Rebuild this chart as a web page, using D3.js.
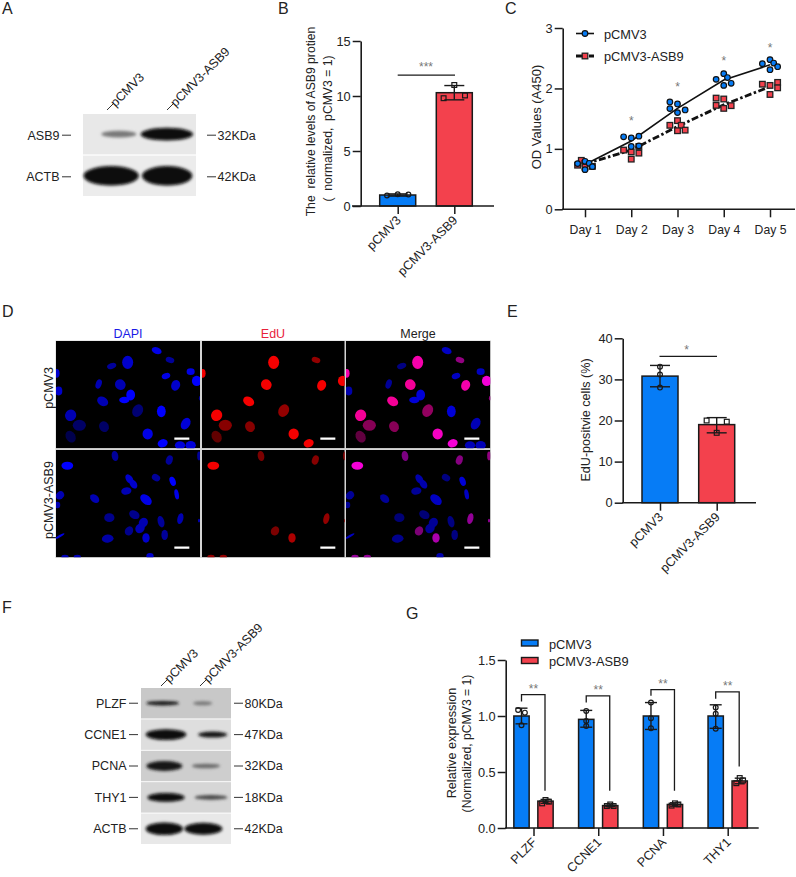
<!DOCTYPE html>
<html><head><meta charset="utf-8">
<script src="https://cdn.jsdelivr.net/npm/d3@7/dist/d3.min.js"></script>
<style>
html,body{margin:0;padding:0;background:#fff}
svg{display:block}
text{font-family:"Liberation Sans",Arial,sans-serif;fill:#222;white-space:pre}
</style></head><body>
<svg id="c" width="796" height="877"></svg>
<script>
/* ---------- data ---------- */
const groups = ["pCMV3","pCMV3-ASB9"];
const panelLetters = ["A","B","C","D","E","F","G"];

// B
const bMeans = [1.0,10.3];
const bErrLo = [0.9,9.65];
const bErrHi = [1.1,10.95];
const bPoints = [[[-0.27,0.95],[0,1.07],[0.27,1.04]],[[-0.27,9.8],[0,11.0],[0.27,10.05]]];
const bTicks = [0,5,10,15];

// C
const days = ["Day 1","Day 2","Day 3","Day 4","Day 5"];
const cTicks = [0,1,2,3];
const cMeanA = [0.74,1.13,1.67,2.14,2.39];
const cMeanB = [0.75,0.98,1.37,1.73,2.03];
const cOffsets = [
 [-0.16,0,0.09,0.16,0],[-0.165,0,0.165,0,0.165],[-0.165,0,-0.165,0,0.165],[-0.165,0,0.08,0.16,0],[-0.165,0,0.08,0.165,0]];
const cBlue = [
 [0.756,0.794,0.761,0.706,0.656],[1.20,1.18,1.21,1.04,1.05],[1.776,1.743,1.666,1.60,1.644],[2.15,2.245,2.18,2.085,2.05],[2.41,2.476,2.42,2.36,2.31]];
const cRedOffsets = [
 [-0.16,-0.08,0,0.16,0],[-0.165,0,0.165,0,0.165],[-0.165,0,0.08,0.165,0],[-0.165,0,-0.165,0.16,0],[-0.165,0,0.165,0.165,0]];
const cRed = [
 [0.73,0.81,0.76,0.71,0.70],[0.98,0.95,0.93,0.83,1.04],[1.39,1.467,1.39,1.31,1.30],[1.84,1.825,1.72,1.715,1.67],[2.07,2.05,2.10,2.01,1.90]];
const cStarDays = [1,2,3,4];
const cStarValues = [1.48,2.04,2.47,2.69];

// E
const eMeans = [30.8,19.0];
const eErrLo = [28.2,17.0];
const eErrHi = [33.4,20.7];
const ePoints = [[[0,33.1],[0,31.2],[0,28.0]],[[-0.18,20.0],[0.18,19.7],[0,17.0]]];
const eTicks = [0,10,20,30,40];

// G
const genes = ["PLZF","CCNE1","PCNA","THY1"];
const gTicks = [0,0.5,1,1.5];
const gBlue = [1.0,0.97,1.0,1.0];
const gRed = [0.24,0.20,0.21,0.42];
const gBlueLo = [0.93,0.90,0.88,0.89];
const gBlueHi = [1.07,1.05,1.12,1.10];
const gRedLo = [0.22,0.19,0.195,0.395];
const gRedHi = [0.255,0.215,0.225,0.445];
const gBluePts = [[[-0.22,1.054],[0.22,1.03],[0,0.917]],[[0,1.045],[0,0.955],[0,0.91]],[[0,1.12],[0,0.98],[0,0.89]],[[0,1.075],[0,1.02],[0,0.887]]];
const gRedPts = [[[-0.22,0.22],[0,0.25],[0.22,0.235]],[[-0.22,0.196],[0,0.21],[0.22,0.196]],[[-0.22,0.2],[0,0.22],[0.22,0.21]],[[-0.22,0.40],[0,0.446],[0.22,0.425]]];
const gBracketTop = [1.19,1.18,1.235,1.215];
const gBracketLeft = [1.13,1.12,1.18,1.155];
const gBracketRight = [0.333,0.333,0.333,0.55];

// D: nuclei in field units, [x, y, rx, ry, angle, blue, red]
const fieldUpper = [
 [302,29,14,9,20,.9,0],[342,57,12,8,15,.6,.6],[215,64,15,18,0,.8,1],[167,75,13,8,-20,.6,0],
 [404,92,11,9,0,.9,0],[330,105,12,8,-20,.9,0],[2,97,8,12,0,.8,1],[422,120,13,14,0,1,1],
 [128,129,8,13,20,.7,0],[193,131,15,14,40,.7,1],[359,133,12,15,20,.8,1],[8,150,10,12,0,.8,0],
 [224,162,12,15,0,1,0],[205,177,14,9,0,1,0],[140,181,16,12,30,.7,1],[245,209,14,18,30,.45,.6],
 [316,211,12,16,0,1,0],[44,223,15,16,30,.7,1],[70,253,18,15,0,.4,.55],[144,257,13,15,-30,.4,.55],
 [389,248,12,17,30,.85,0],[275,279,14,15,0,.9,1],[44,287,13,17,-30,.3,.4],[320,307,14,11,-20,1,1],
 [372,313,14,11,0,.85,0],[404,313,14,12,0,.85,0],[432,172,3,6,0,.6,.6]];
const fieldLower = [
 [177,18,9,14,-10,.6,.5],[34,47,16,11,0,1,1],[340,30,9,13,20,.6,.55],[429,18,5,12,0,.6,.6],
 [220,87,9,14,-35,.8,0],[232,102,9,14,-35,.8,0],[300,83,12,9,30,.6,0],[350,94,8,13,-20,1,0],
 [211,123,14,10,-10,.7,0],[362,133,6,14,-10,.9,0],[116,146,14,10,40,.7,0],[270,149,18,12,40,.9,0],
 [12,136,12,10,-40,.7,0],[4,165,8,9,0,.7,0],[235,194,15,11,30,.55,0],[160,203,14,12,0,.55,0],
 [373,206,8,15,15,.7,.6],[315,215,9,16,-15,.6,0],[262,218,12,14,30,.7,0],[252,235,14,12,-50,.7,0],
 [219,243,11,13,30,.55,.5],[326,255,9,14,0,.6,0],[12,258,14,3,-30,.9,0],[270,264,10,13,0,.8,.7],
 [155,266,16,11,-5,.65,0],[429,212,3,5,0,.7,.6],[27,321,10,6,0,.7,.6],[64,321,10,6,0,.7,.6],[282,318,10,8,0,.8,0]];
const fields = [fieldUpper,fieldLower];
const channels = ["DAPI","EdU","Merge"];

// blots: [label, kDa, background grey, bands [centre, width, height, density]]
const blotA = [
 ["ASB9","32KDa",232,[[107,104,20,.5],[250,156,38,1.0]]],
 ["ACTB","42KDa",236,[[84,165,58,1.0],[251,150,58,1.0]]]];
const blotF = [
 ["PLZF","80KDa",200,[[65,98,14,.92],[185,58,12,.42]]],
 ["CCNE1","47KDa",222,[[75,122,32,1.0],[215,88,18,.92]]],
 ["PCNA","32KDa",206,[[70,108,30,.95],[195,84,14,.5]]],
 ["THY1","18KDa",214,[[75,112,26,1.0],[210,98,14,.68]]],
 ["ACTB","42KDa",232,[[70,112,38,1.0],[187,114,36,1.0]]]];

/* ---------- helpers ---------- */
const blue="#067cf6", red="#f3414d", ink="#1a1a1a";
const svg=d3.select("#c");
const defs=svg.append("defs");
defs.append("filter").attr("id","soft").attr("x","-30%").attr("y","-30%").attr("width","160%").attr("height","160%")
  .append("feGaussianBlur").attr("stdDeviation",0.7);
defs.append("filter").attr("id","band").attr("x","-30%").attr("y","-80%").attr("width","160%").attr("height","260%")
  .append("feGaussianBlur").attr("stdDeviation",1.8);

function txt(g,x,y,s,o={}){
  const t=g.append("text").attr("x",x).attr("y",y).text(s)
    .attr("font-size",o.size||12.5).attr("text-anchor",o.anchor||"start");
  if(o.rot!==undefined) t.attr("transform",`rotate(${o.rot} ${x} ${y})`);
  if(o.fill) t.style("fill",o.fill);
  return t;
}
function styleAxis(a,size){
  a.selectAll("path.domain").attr("stroke",ink).attr("stroke-width",1.6);
  a.selectAll("line").attr("stroke",ink).attr("stroke-width",1.5);
  a.selectAll("text").attr("font-size",size||12.5).style("font-family",'"Liberation Sans",Arial,sans-serif').style("fill","#222");
}
function yAxis(y,x,ticks,fmt){
  const a=svg.append("g").attr("transform",`translate(${x},0)`)
    .call(d3.axisLeft(y).tickValues(ticks).tickSize(8).tickSizeOuter(0).tickPadding(2).tickFormat(fmt||d3.format("d")));
  styleAxis(a,12.8); return a;
}
function xAxis(xs,y0,x0,x1,rotate){
  const a=svg.append("g").attr("transform",`translate(0,${y0})`)
    .call(d3.axisBottom(xs).tickSize(8).tickSizeOuter(0).tickPadding(8));
  a.select("path.domain").remove();
  styleAxis(a,rotate?12.6:12.2);
  svg.append("line").attr("x1",x0).attr("x2",x1).attr("y1",y0).attr("y2",y0).attr("stroke",ink).attr("stroke-width",1.6);
  if(rotate) a.selectAll(".tick text").attr("text-anchor","end").attr("dy",0).attr("dx",0)
     .attr("y",15).attr("x",3.5).attr("transform","rotate(-45 3.5 15)");
  return a;
}
function bar(cx,w,v,y,fill){
  svg.append("rect").attr("x",cx-w/2).attr("width",w).attr("y",y(v)).attr("height",y(0)-y(v))
    .attr("fill",fill).attr("stroke",ink).attr("stroke-width",1.5);
}
function err(cx,cap,lo,hi,y){
  const g=svg.append("g").attr("stroke",ink).attr("stroke-width",1.4);
  g.append("line").attr("x1",cx).attr("x2",cx).attr("y1",y(lo)).attr("y2",y(hi));
  [lo,hi].forEach(v=>g.append("line").attr("x1",cx-cap).attr("x2",cx+cap).attr("y1",y(v)).attr("y2",y(v)));
}
function marks(cx,w,pts,y,shape){
  const g=svg.append("g").attr("fill","none").attr("stroke",ink).attr("stroke-width",1.2);
  pts.forEach(p=>{
    const px=cx+p[0]*w, py=y(p[1]);
    if(shape==="c") g.append("circle").attr("cx",px).attr("cy",py).attr("r",2.4);
    else g.append("rect").attr("x",px-2.4).attr("y",py-2.4).attr("width",4.8).attr("height",4.8);
  });
}
function stars(x,y,s){ return txt(svg,x,y,s,{anchor:"middle",size:12,fill:"#777"}); }

/* ---------- panel letters ---------- */
const letterPos=[[2,14],[278,14],[505,14],[2,317],[507,317],[2,613],[406,619]];
panelLetters.forEach((l,i)=>txt(svg,letterPos[i][0],letterPos[i][1],l,{size:16}));

/* ---------- blots ---------- */
function blot(rows,cfg){
  const g=svg.append("g");
  const xs=d3.scaleLinear().domain([0,cfg.units]).range([cfg.x0,cfg.x1]);
  const rowY=d3.scaleBand().domain(d3.range(rows.length)).range([cfg.y0,cfg.y1]).paddingInner(cfg.gap);
  rows.forEach((r,i)=>{
    const ry=rowY(i), rh=rowY.bandwidth(), cy=ry+rh/2;
    const bg=d3.rgb(r[2],r[2],r[2]);
    g.append("rect").attr("x",cfg.x0).attr("y",ry).attr("width",cfg.x1-cfg.x0).attr("height",rh).attr("fill",bg);
    r[3].forEach(b=>{
      const v=Math.round(r[2]*(1-b[3])+8*b[3]);
      g.append("ellipse").attr("cx",xs(b[0])).attr("cy",cy).attr("rx",(xs(b[1])-xs(0))/2).attr("ry",(xs(b[2])-xs(0))/2)
        .attr("fill",d3.rgb(v,v,v)).attr("filter","url(#band)");
    });
    const ly=cy+cfg.shift;
    txt(g,cfg.tickEnd-11.5,ly+4.4,r[0],{anchor:"end",size:cfg.size});
    g.append("line").attr("x1",cfg.tickEnd-9).attr("x2",cfg.tickEnd).attr("y1",ly).attr("y2",ly).attr("stroke","#333");
    g.append("line").attr("x1",cfg.x1+cfg.rightGap).attr("x2",cfg.x1+cfg.rightGap+9).attr("y1",ly).attr("y2",ly).attr("stroke","#333");
    txt(g,cfg.x1+cfg.rightGap+10.5,ly+4.4,r[1],{size:cfg.size});
  });
  groups.forEach((n,i)=>{
    const [tx,ty]=cfg.heads[i];
    g.append("line").attr("x1",tx).attr("y1",ty).attr("x2",tx+7).attr("y2",ty-7).attr("stroke","#333");
    txt(g,tx+8.5,ty-2.5,n,{size:cfg.size,rot:-45});
  });
}
blot(blotA,{units:337,x0:83,x1:196,y0:114,y1:196,gap:0.03,tickEnd:71,rightGap:11,size:12.5,shift:1,
  heads:[[107,110],[167,110]]});
blot(blotF,{units:270,x0:141,x1:231,y0:688,y1:844,gap:0.03,tickEnd:138,rightGap:3,size:12.5,shift:0,
  heads:[[161,686],[200,686]]});

/* ---------- B ---------- */
{
 const y=d3.scaleLinear().domain([0,15]).range([206,41]);
 const x=d3.scalePoint().domain(groups).range([397.7,454.3]);
 yAxis(y,360.7,bTicks);
 groups.forEach((g,i)=>{
   bar(x(g),36,bMeans[i],y,i?red:blue);
   err(x(g),10,bErrLo[i],bErrHi[i],y);
   marks(x(g),36,bPoints[i].map(p=>[p[0]*1.1,p[1]]),y,i?"s":"c");
 });
 xAxis(x,206,352,494,true);
 svg.append("line").attr("x1",397.7).attr("x2",455).attr("y1",y(11.9)).attr("y2",y(11.9)).attr("stroke",ink).attr("stroke-width",1.4);
 stars(426,y(11.9)-4,"***");
 txt(svg,315,121.5,"The  relative levels of ASB9 protien",{anchor:"middle",rot:-90,size:12.2});
 txt(svg,331.5,128.5,"(  normalized,  pCMV3 = 1)",{anchor:"middle",rot:-90,size:12.2});
}

/* ---------- C ---------- */
{
 const y=d3.scaleLinear().domain([0,3]).range([209.3,28]);
 const x=d3.scalePoint().domain(days).range([585,770]);
 const step=x.step();
 yAxis(y,562.7,cTicks);
 xAxis(x,209.3,562,795,false);
 const line=d3.line().x((d,i)=>x(days[i])).y(d=>y(d));
 svg.append("path").attr("d",line(cMeanB)).attr("fill","none").attr("stroke","#111").attr("stroke-width",2.8).attr("stroke-dasharray","7 2.5 2.5 2.5");
 svg.append("path").attr("d",line(cMeanA)).attr("fill","none").attr("stroke","#111").attr("stroke-width",1.6);
 const sq=(g,cx,cy)=>g.append("rect").attr("x",cx-2.8).attr("y",cy-2.8).attr("width",5.6).attr("height",5.6).attr("fill",red).attr("stroke","#222").attr("stroke-width",1.3);
 const ci=(g,cx,cy)=>g.append("circle").attr("cx",cx).attr("cy",cy).attr("r",2.8).attr("fill",blue).attr("stroke","#111").attr("stroke-width",1.2);
 const g=svg.append("g");
 cRed.forEach((vals,d)=>vals.forEach((v,j)=>sq(g,x(days[d])+cRedOffsets[d][j]*step,y(v))));
 cBlue.forEach((vals,d)=>vals.forEach((v,j)=>ci(g,x(days[d])+cOffsets[d][j]*step,y(v))));
 cStarDays.forEach((d,i)=>stars(x(days[d]),y(cStarValues[i])+5,"*"));
 txt(svg,541,117,"OD Values (A450)",{anchor:"middle",rot:-90,size:13});
 svg.append("line").attr("x1",576).attr("x2",594).attr("y1",33.5).attr("y2",33.5).attr("stroke","#111").attr("stroke-width",1.6);
 ci(svg,585,33.5);
 svg.append("line").attr("x1",576).attr("x2",594).attr("y1",56).attr("y2",56).attr("stroke","#111").attr("stroke-width",2.8).attr("stroke-dasharray","7 2 2 2");
 sq(svg,585,56);
 txt(svg,604,38.5,groups[0],{size:12.8});
 txt(svg,604,61,groups[1],{size:12.8});
}

/* ---------- D ---------- */
{
 const colX=[[56,200],[202,344.7],[346,490.3]];
 const rowY=[[341,448.3],[450,557.3]];
 const headFill=["#1a1ae6","#e8213a","#222"];
 const headX=[128,273,418];
 svg.append("rect").attr("x",55.5).attr("y",340.5).attr("width",435.5).attr("height",217.5).attr("fill","#d4d4d4");
 channels.forEach((c,i)=>txt(svg,headX[i],337.5,c,{anchor:"middle",size:12.5,fill:headFill[i]}));
 txt(svg,53,388,groups[0],{anchor:"middle",rot:-90,size:12.5});
 txt(svg,53,500,groups[1],{anchor:"middle",rot:-90,size:12.5});
 rowY.forEach((ry,r)=>colX.forEach((cx,c)=>{
   const id=`clip${r}${c}`;
   defs.append("clipPath").attr("id",id).append("rect").attr("x",cx[0]).attr("y",ry[0]).attr("width",cx[1]-cx[0]).attr("height",ry[1]-ry[0]);
   const g=svg.append("g").attr("clip-path",`url(#${id})`);
   g.append("rect").attr("x",cx[0]).attr("y",ry[0]).attr("width",cx[1]-cx[0]).attr("height",ry[1]-ry[0]).attr("fill","#000");
   const sx=d3.scaleLinear().domain([0,432]).range([cx[0],cx[0]+144]);
   const sy=d3.scaleLinear().domain([0,322]).range([ry[0],ry[1]]);
   const inner=g.append("g").attr("filter","url(#soft)");
   fields[r].forEach(n=>{
     const [nx,ny,rx,ryy,ang,b,rd]=n;
     const R=c===0?0:rd, B=c===1?0:b;
     if(R===0&&B===0) return;
     inner.append("ellipse").attr("rx",rx/3*1.1).attr("ry",ryy/3*1.1)
       .attr("transform",`translate(${sx(nx)},${sy(ny)}) rotate(${ang})`)
       .attr("fill",d3.rgb(Math.round(R*245),0,Math.round(B*(c===2?215:255))));
   });
   g.append("line").attr("x1",sx(355)).attr("x2",sx(400)).attr("y1",sy(293)).attr("y2",sy(293)).attr("stroke","#fff").attr("stroke-width",2.2);
 }));
}

/* ---------- E ---------- */
{
 const y=d3.scaleLinear().domain([0,40]).range([502.7,338.3]);
 const x=d3.scalePoint().domain(groups).range([660,716.7]);
 yAxis(y,622.7,eTicks);
 groups.forEach((g,i)=>{
   bar(x(g),36,eMeans[i],y,i?red:blue);
   err(x(g),10,eErrLo[i],eErrHi[i],y);
   marks(x(g),56,ePoints[i],y,i?"s":"c");
 });
 xAxis(x,502.7,622,756,true);
 svg.append("line").attr("x1",659.5).attr("x2",717).attr("y1",y(35.6)).attr("y2",y(35.6)).attr("stroke",ink).attr("stroke-width",1.4);
 stars(686.5,y(35.6)-2,"*");
 txt(svg,590,420,"EdU-positvie cells (%)",{anchor:"middle",rot:-90,size:12.6});
}

/* ---------- G ---------- */
{
 const y=d3.scaleLinear().domain([0,1.5]).range([828,660]);
 const x=d3.scalePoint().domain(genes).range([533.5,727.7]);
 yAxis(y,505.7,gTicks,d3.format(".1f"));
 const w=15.3, off=12;
 genes.forEach((g,i)=>{
   const c=x(g);
   bar(c-off,w,gBlue[i],y,blue);
   bar(c+off,w,gRed[i],y,red);
   err(c-off,6,gBlueLo[i],gBlueHi[i],y);
   err(c+off,5,gRedLo[i],gRedHi[i],y);
   marks(c-off,w*1.0,gBluePts[i],y,"c");
   marks(c+off,w*1.0,gRedPts[i],y,"s");
   const l=c-off, r=c+off-0.5;
   svg.append("path").attr("d",d3.line()([[l,y(gBracketLeft[i])],[l,y(gBracketTop[i])],[r,y(gBracketTop[i])],[r,y(gBracketRight[i])]]))
     .attr("fill","none").attr("stroke",ink).attr("stroke-width",1.3);
   stars(c,y(gBracketTop[i])-2,"**");
 });
 xAxis(x,828,505,758.7,true);
 txt(svg,456,743,"Relative expression",{anchor:"middle",rot:-90,size:12.7});
 txt(svg,471,743.5,"(Normalized, pCMV3 = 1)",{anchor:"middle",rot:-90,size:12.2});
 [[blue,640],[red,657.5]].forEach(([f,yy])=>svg.append("rect").attr("x",521.5).attr("y",yy).attr("width",16.5).attr("height",6).attr("fill",f).attr("stroke",ink).attr("stroke-width",1.4));
 txt(svg,549,648.5,groups[0],{size:12.8});
 txt(svg,549,665.5,groups[1],{size:12.8});
}
</script>
</body></html>
